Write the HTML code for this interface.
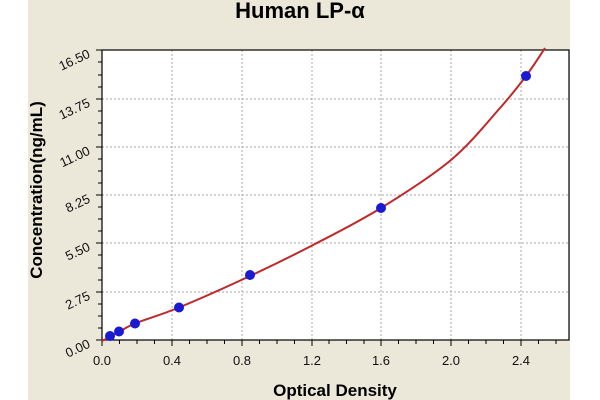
<!DOCTYPE html>
<html><head><meta charset="utf-8"><style>
html,body{margin:0;padding:0;background:#fff;}
svg{display:block;font-family:"Liberation Sans",Arial,sans-serif;}
</style></head><body>
<svg width="600" height="400" viewBox="0 0 600 400">
<rect x="28" y="0" width="542" height="400" fill="#ebe8da"/>
<rect x="102" y="50" width="467" height="290" fill="#fff"/>
<g stroke="#aaa" stroke-width="1" stroke-dasharray="2,2">
<line x1="172" y1="50" x2="172" y2="340"/><line x1="242" y1="50" x2="242" y2="340"/>
<line x1="312" y1="50" x2="312" y2="340"/><line x1="381" y1="50" x2="381" y2="340"/>
<line x1="451" y1="50" x2="451" y2="340"/><line x1="521" y1="50" x2="521" y2="340"/>
<line x1="102" y1="292" x2="569" y2="292"/><line x1="102" y1="243" x2="569" y2="243"/>
<line x1="102" y1="195" x2="569" y2="195"/><line x1="102" y1="147" x2="569" y2="147"/>
<line x1="102" y1="99" x2="569" y2="99"/>
</g>
<rect x="102" y="50" width="467" height="290" fill="none" stroke="#000" stroke-width="1.2"/>
<g stroke="#000" stroke-width="1">
<path d="M102 340v6M119.5 340v4M137 340v4M154.5 340v4M172 340v6M189.5 340v4M207 340v4M224.5 340v4M242 340v6M259.5 340v4M277 340v4M294.5 340v4M312 340v6M329 340v4M346.5 340v4M364 340v4M381 340v6M398.5 340v4M416 340v4M433.5 340v4M451 340v6M468.5 340v4M486 340v4M503.5 340v4M521 340v6M538.5 340v4M556 340v4"/>
<path d="M96 340h6M98 328h4M98 316h4M98 304h4M96 292h6M98 280h4M98 268h4M98 255h4M96 243h6M98 231h4M98 219h4M98 207h4M96 195h6M98 183h4M98 171h4M98 159h4M96 147h6M98 135h4M98 123h4M98 111h4M96 99h6M98 87h4M98 75h4M98 62h4M96 50h6"/>
</g>
<path id="curve" d="" fill="none" stroke="#c0282a" stroke-width="2" stroke-linejoin="round"/>
<g fill="#1a1ad0">
<circle cx="110" cy="336" r="5"/><circle cx="119" cy="331.5" r="5"/><circle cx="135" cy="323.5" r="5"/>
<circle cx="179" cy="307.5" r="5"/><circle cx="250" cy="275" r="5"/><circle cx="381" cy="208" r="5"/><circle cx="526" cy="76" r="5"/>
</g>
<text x="300" y="18" text-anchor="middle" font-size="22" font-weight="bold">Human LP-α</text>
<g font-size="13" text-anchor="middle" fill="#111">
<text x="102" y="365">0.0</text><text x="172" y="365">0.4</text><text x="242" y="365">0.8</text>
<text x="312" y="365">1.2</text><text x="381" y="365">1.6</text><text x="451" y="365">2.0</text><text x="521" y="365">2.4</text>
</g>
<g font-size="13" text-anchor="end" fill="#111">
<text transform="translate(91,347) rotate(-25)">0.00</text>
<text transform="translate(91,299) rotate(-25)">2.75</text>
<text transform="translate(91,250) rotate(-25)">5.50</text>
<text transform="translate(91,202) rotate(-25)">8.25</text>
<text transform="translate(91,154) rotate(-25)">11.00</text>
<text transform="translate(91,106) rotate(-25)">13.75</text>
<text transform="translate(91,57) rotate(-25)">16.50</text>
</g>
<text x="335" y="396" text-anchor="middle" font-size="17" font-weight="bold">Optical Density</text>
<text transform="translate(42,190) rotate(-90)" text-anchor="middle" font-size="17" font-weight="bold">Concentration(ng/mL)</text>
</svg>
<script>
var p=[[102,341],[119,332],[135,323.5],[179,307.5],[250,276],[315,244],[381,208],[451,160],[500,108],[526,76],[545,48]];
var d="M"+p[0][0]+" "+p[0][1];
for(var i=0;i<p.length-1;i++){
 var p0=p[Math.max(i-1,0)],p1=p[i],p2=p[i+1],p3=p[Math.min(i+2,p.length-1)];
 var c1=[p1[0]+(p2[0]-p0[0])/6,p1[1]+(p2[1]-p0[1])/6];
 var c2=[p2[0]-(p3[0]-p1[0])/6,p2[1]-(p3[1]-p1[1])/6];
 d+=" C"+c1.join(" ")+" "+c2.join(" ")+" "+p2.join(" ");
}
document.getElementById("curve").setAttribute("d",d);
</script>
</body></html>
